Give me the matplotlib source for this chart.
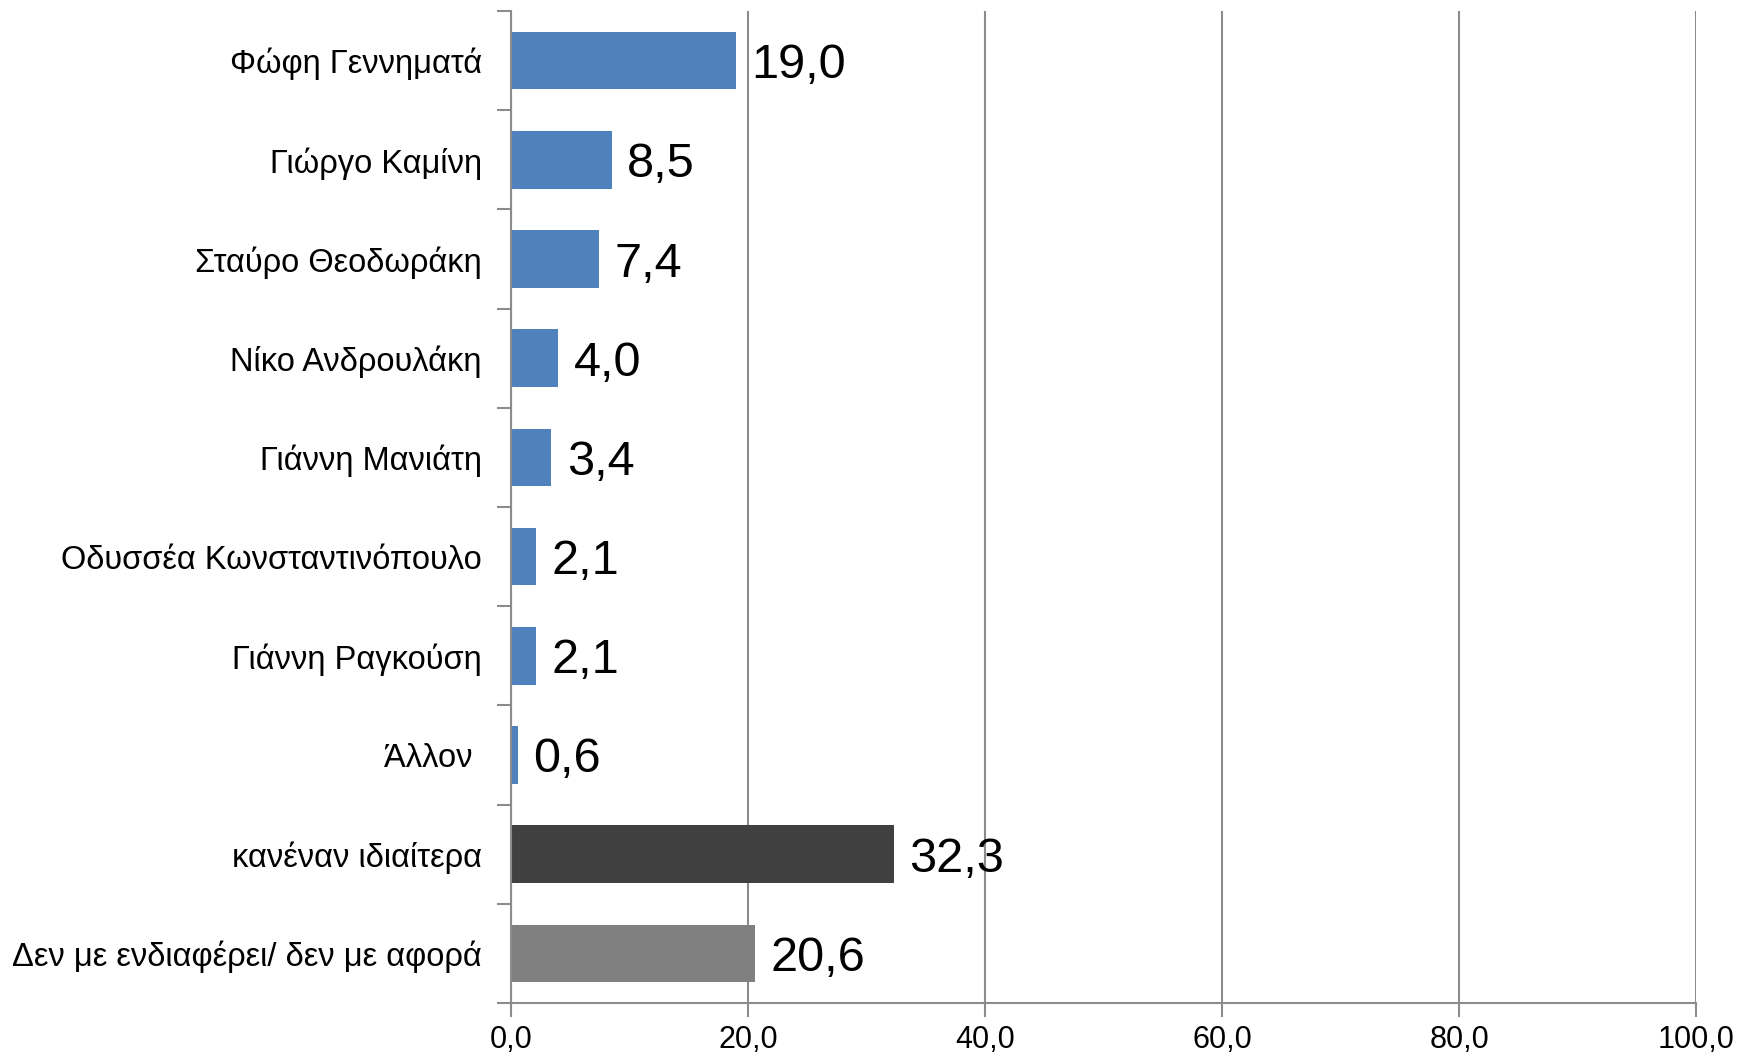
import numpy as np
import matplotlib.pyplot as plt

plt.rcParams['font.family'] = ['Liberation Sans', 'DejaVu Sans']

categories = [
    'Φώφη Γεννηματά',
    'Γιώργο Καμίνη',
    'Σταύρο Θεοδωράκη',
    'Νίκο Ανδρουλάκη',
    'Γιάννη Μανιάτη',
    'Οδυσσέα Κωνσταντινόπουλο',
    'Γιάννη Ραγκούση',
    'Άλλον ',
    'κανέναν ιδιαίτερα',
    'Δεν με ενδιαφέρει/ δεν με αφορά',
]
values = [19.0, 8.5, 7.4, 4.0, 3.4, 2.1, 2.1, 0.6, 32.3, 20.6]
colors = ['#4F81BD'] * 8 + ['#404040', '#808080']
xticks = [0, 20, 40, 60, 80, 100]

axis_grey = '#8C8C8C'

fig = plt.figure(figsize=(17.39, 10.62), dpi=100)
ax = fig.add_axes([0.2938, 0.0556, 0.9753 - 0.2938, 0.9896 - 0.0556])

y = np.arange(len(categories))
ax.barh(y, values, height=0.58, color=colors, zorder=3)

# value labels to the right of the bars
for yi, v in zip(y, values):
    ax.text(v + 1.3, yi, f'{v:.1f}'.replace('.', ','), fontsize=35,
            va='center_baseline', ha='left', zorder=4)

ax.set_xlim(0, 100)
ax.set_ylim(len(categories) - 0.5, -0.5)

ax.set_xticks(xticks)
ax.set_xticklabels([f'{t:.1f}'.replace('.', ',') for t in xticks], fontsize=22)
ax.tick_params(axis='x', direction='out', length=10, width=1.5, color=axis_grey, pad=6)

ax.set_yticks(y)
ax.set_yticklabels(categories, fontsize=23.5)
ax.tick_params(axis='y', which='major', length=0, pad=21)
ax.set_yticks(np.arange(-0.5, len(categories)), minor=True)
ax.tick_params(axis='y', which='minor', direction='out', length=10, width=1.5, color=axis_grey)

ax.xaxis.grid(True, color=axis_grey, linewidth=1.5, zorder=0)
ax.set_axisbelow(True)

for side in ['top', 'right']:
    ax.spines[side].set_visible(False)
for side in ['left', 'bottom']:
    ax.spines[side].set_color(axis_grey)
    ax.spines[side].set_linewidth(1.5)
    ax.spines[side].set_zorder(5)

fig.savefig('out.png', dpi=100)
